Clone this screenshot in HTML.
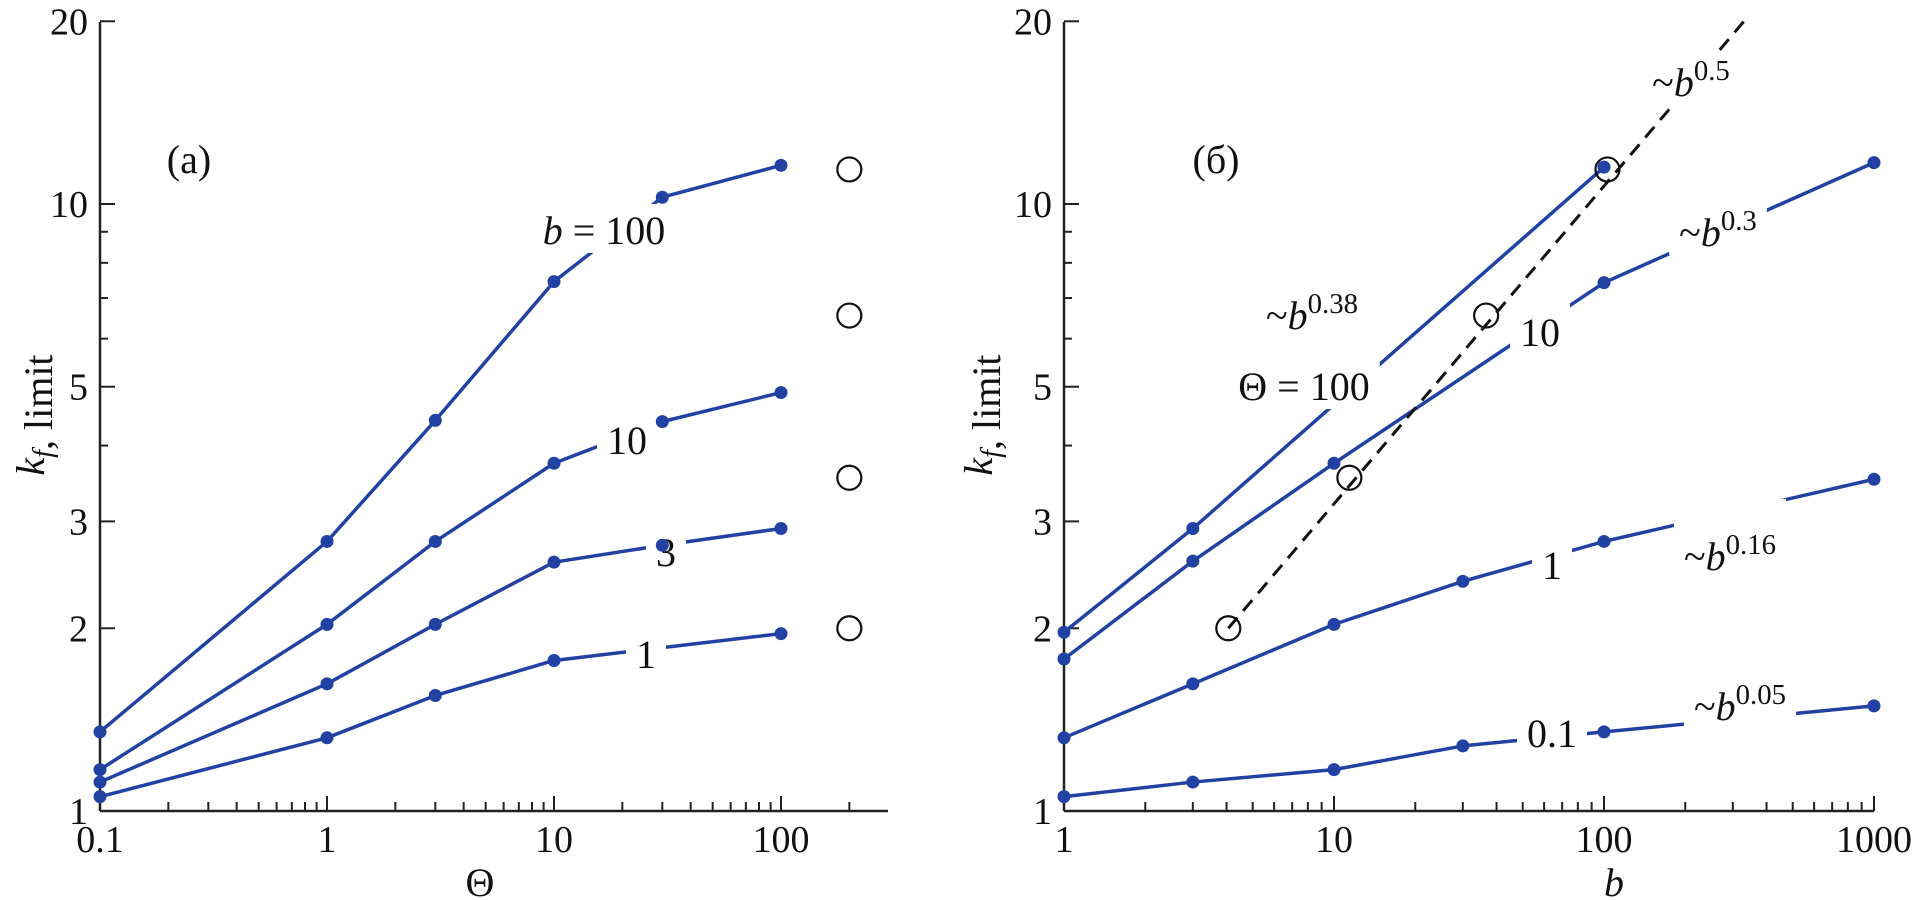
<!DOCTYPE html>
<html><head><meta charset="utf-8"><style>
html,body{margin:0;padding:0;background:#fff;}
svg{display:block;font-family:"Liberation Serif",serif;}
</style></head><body>
<svg id="chart" width="1918" height="900" viewBox="0 0 1918 900" xmlns="http://www.w3.org/2000/svg">
<g id="axes"></g>
<g id="series"></g>
<g id="labels"></g>
<g id="markers"></g>
</svg>
<script>
// ---------- data (panel a) ----------
const thetaVals = [0.1, 1, 3, 10, 30, 100];
const bNames = ["1", "3", "10", "100"];
const kB1 = [1.056, 1.32, 1.55, 1.77, null, 1.96];
const kB3 = [1.116, 1.62, 2.03, 2.57, 2.74, 2.92];
const kB10 = [1.17, 2.03, 2.78, 3.74, 4.38, 4.89];
const kB100 = [1.35, 2.78, 4.40, 7.45, 10.26, 11.58];
const circThetaA = [200, 200, 200, 200];
const circKA = [11.4, 6.55, 3.54, 2.0];
// ---------- data (panel b) ----------
const bVals = [1, 3, 10, 30, 100, 1000];
const kT01 = [1.056, 1.116, 1.17, 1.28, 1.35, 1.49];
const kT1 = [1.32, 1.62, 2.03, 2.39, 2.78, 3.52];
const kT10 = [1.78, 2.58, 3.74, null, 7.42, 11.7];
const kT100 = [1.97, 2.92, null, null, 11.5, null];
const circB = [4.06, 11.4, 36.6, 103];
const circKB = [2.0, 3.54, 6.55, 11.4];
const dashB = [4.06, 330];
const dashK = [2.0, 20];
const xTicksA = ["0.1", "1", "10", "100"];
const xTickValsA = [0.1, 1, 10, 100];
const xTicksB = ["1", "10", "100", "1000"];
const xTickValsB = [1, 10, 100, 1000];
const yTicks = ["1", "2", "3", "5", "10", "20"];
const yTickVals = [1, 2, 3, 5, 10, 20];

const NS = "http://www.w3.org/2000/svg";
const BLUE = "#2141a3";
const Y = v => 811 - 607 * Math.log10(v);
const XA = t => 100 + 227 * (Math.log10(t) + 1);
const XB = b => 1064 + 270 * Math.log10(b);

function mk(tag, attrs, parent) {
  const e = document.createElementNS(NS, tag);
  for (const k in attrs) e.setAttribute(k, attrs[k]);
  parent.appendChild(e);
  return e;
}
const axes = document.getElementById("axes");
const series = document.getElementById("series");
const labels = document.getElementById("labels");
const markers = document.getElementById("markers");

function drawAxes(x0, x1, xf, xmin, xmax, tickVals, tickLbls, pfx) {
  const ax = mk("line", {x1: x0, y1: 811, x2: x1, y2: 811, stroke: "#222", "stroke-width": 2.5}, axes);
  
  
  const ay = mk("line", {x1: x0, y1: 22, x2: x0, y2: 811, stroke: "#222", "stroke-width": 2.5}, axes);
  
  
  for (let d = Math.round(Math.log10(xmin)); d < Math.log10(xmax); d++) {
    for (let m = 1; m <= 9; m++) {
      const v = Math.pow(10, d) * m;
      if (v < xmin * 0.999 || v > xmax) continue;
      const x = xf(v);
      const len = m === 1 ? 15 : 9;
      const t = mk("line", {x1: x, y1: 811, x2: x, y2: 811 - len, stroke: "#222", "stroke-width": 2}, axes);
      
      
    }
  }
  if (xmax === 1000) { const x = xf(xmax); const t = mk("line", {x1: x, y1: 811, x2: x, y2: 796, stroke: "#222", "stroke-width": 2}, axes);
    
     }
  tickVals.forEach((v, i) => {
    const t = mk("text", {x: xf(v), y: 852, "text-anchor": "middle", "font-size": 38, fill: "#111"}, axes);
    t.textContent = tickLbls[i];
    
    
  });
  for (let m = 1; m <= 20; m++) {
    if (m > 10 && m !== 20) continue;
    const y = Y(m);
    const len = (m === 1 || m === 2 || m === 3 || m === 5 || m === 10 || m === 20) ? 15 : 8;
    const t = mk("line", {x1: x0, y1: y, x2: x0 + len, y2: y, stroke: "#222", "stroke-width": 2}, axes);
    
    
  }
  yTickVals.forEach((v, i) => {
    const t = mk("text", {x: x0 - 12, y: Y(v) + 13, "text-anchor": "end", "font-size": 38, fill: "#111"}, axes);
    t.textContent = yTicks[i];
    
    
  });
}
drawAxes(100, 888, XA, 0.1, 295, xTickValsA, xTicksA, "panel-a");
drawAxes(1064, 1874, XB, 1, 1000, xTickValsB, xTicksB, "panel-b");

function drawSeries(xs, ys, xf, name) {
  const pts = [];
  xs.forEach((x, i) => { if (ys[i] != null) pts.push([xf(x), Y(ys[i])]); });
  const p = mk("polyline", {points: pts.map(p => p.join(",")).join(" "), fill: "none", stroke: BLUE, "stroke-width": 3.5, "stroke-linejoin": "round"}, series);
  
  
  pts.forEach(pt => {
    const c = mk("circle", {cx: pt[0], cy: pt[1], r: 6.5, fill: BLUE}, markers);
    
    
  });
}
drawSeries(thetaVals, kB1, XA, "a-b1");
drawSeries(thetaVals, kB3, XA, "a-b3");
drawSeries(thetaVals, kB10, XA, "a-b10");
drawSeries(thetaVals, kB100, XA, "a-b100");
drawSeries(bVals, kT01, XB, "b-theta01");
drawSeries(bVals, kT1, XB, "b-theta1");
drawSeries(bVals, kT10, XB, "b-theta10");
drawSeries(bVals, kT100, XB, "b-theta100");

const dl = mk("line", {x1: XB(dashB[0]), y1: Y(dashK[0]), x2: XB(dashB[1]), y2: Y(dashK[1]), stroke: "#111", "stroke-width": 3, "stroke-dasharray": "14 9"}, series);



function openCircles(xs, ys, xf, name) {
  xs.forEach((x, i) => {
    const c = mk("circle", {cx: xf(x), cy: Y(ys[i]), r: 12, fill: "none", stroke: "#111", "stroke-width": 2.2}, markers);
    
    
  });
}
openCircles(circThetaA, circKA, XA, "a-open-circle");
openCircles(circB, circKB, XB, "b-open-circle");

function label(x, y, parts, name, size, up) {
  size = size || 40;
  up = up || 4;
  const t = mk("text", {x: x, y: y, "text-anchor": "middle", "font-size": size, fill: "#111"}, labels);
  parts.forEach(p => {
    const s = mk("tspan", {}, t);
    if (p.i) s.setAttribute("font-style", "italic");
    if (p.sup) { s.setAttribute("font-size", size * 0.72); s.setAttribute("dy", -size * 0.4); }
    s.textContent = p.t;
  });
  
  
  const bb = t.getBBox();
  const r = mk("rect", {x: bb.x - 10, y: bb.y - up, width: bb.width + 20, height: bb.height + up, fill: "#fff"}, labels);
  labels.insertBefore(r, t);
  
  
}
label(189, 173, [{t: "(a)"}], "panel-a-tag");
label(604, 244, [{t: "b", i: 1}, {t: " = 100"}], "label-b100");
label(627, 454, [{t: "10"}], "label-b10");
label(666, 566, [{t: "3"}], "label-b3");
label(646, 668, [{t: "1"}], "label-b1");
label(1216, 173, [{t: "(б)"}], "panel-b-tag");
label(1691, 96, [{t: "~"}, {t: "b", i: 1}, {t: "0.5", sup: 1}], "label-b05");
label(1718, 246, [{t: "~"}, {t: "b", i: 1}, {t: "0.3", sup: 1}], "label-b03", 40, 22);
label(1540, 346, [{t: "10"}], "label-theta10", 40, 10);
label(1312, 329, [{t: "~"}, {t: "b", i: 1}, {t: "0.38", sup: 1}], "label-b038");
label(1304, 400, [{t: "Θ = 100"}], "label-theta100");
label(1730, 570, [{t: "~"}, {t: "b", i: 1}, {t: "0.16", sup: 1}], "label-b016", 40, 30);
label(1552, 579, [{t: "1"}], "label-theta1", 40, 10);
label(1552, 747, [{t: "0.1"}], "label-theta01");
label(1740, 720, [{t: "~"}, {t: "b", i: 1}, {t: "0.05", sup: 1}], "label-b005");

function title(x, y, parts, name, rot) {
  const t = mk("text", {x: x, y: y, "text-anchor": "middle", "font-size": 40, fill: "#111"}, axes);
  if (rot) t.setAttribute("transform", "rotate(-90 " + x + " " + y + ")");
  parts.forEach(p => {
    const s = mk("tspan", {}, t);
    if (p.i) s.setAttribute("font-style", "italic");
    if (p.sub) { s.setAttribute("font-size", 28); s.setAttribute("dy", 8); }
    s.textContent = p.t;
  });
  
  
}
title(44, 415, [{t: "k", i: 1}, {t: "f", i: 1, sub: 1}, {t: ", limit"}], "panel-a-y-axis-title", true);
title(992, 415, [{t: "k", i: 1}, {t: "f", i: 1, sub: 1}, {t: ", limit"}], "panel-b-y-axis-title", true);
title(480, 896, [{t: "Θ"}], "panel-a-x-axis-title");
title(1614, 896, [{t: "b", i: 1}], "panel-b-x-axis-title");
</script>
</body></html>
